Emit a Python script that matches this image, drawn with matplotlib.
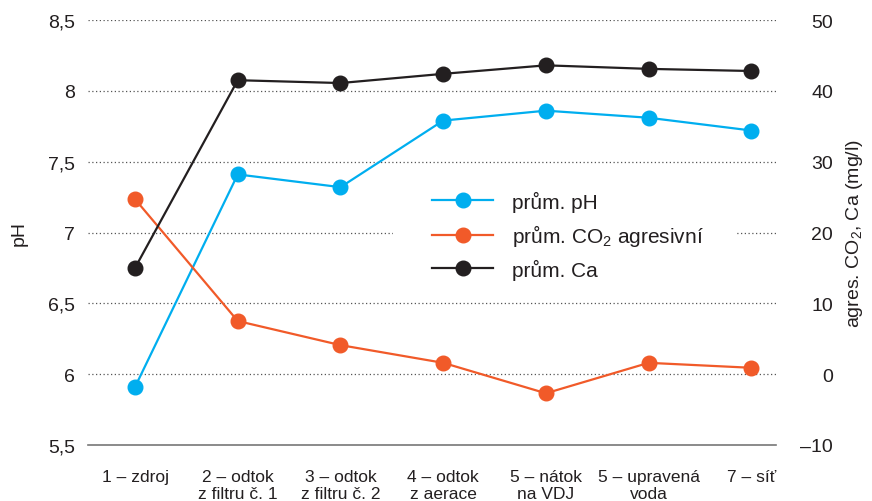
import matplotlib
matplotlib.use("Agg")
import matplotlib.pyplot as plt
from matplotlib.patches import Rectangle
import numpy as np

plt.rcParams['font.family'] = ['Liberation Sans', 'DejaVu Sans']
plt.rcParams['mathtext.fontset'] = 'custom'
plt.rcParams['mathtext.rm'] = 'Liberation Sans'
plt.rcParams['mathtext.it'] = 'Liberation Sans:italic'
plt.rcParams['mathtext.bf'] = 'Liberation Sans:bold'

categories = ["1 – zdroj", "2 – odtok\nz filtru č. 1", "3 – odtok\nz filtru č. 2",
              "4 – odtok\nz aerace", "5 – nátok\nna VDJ", "5 – upravená\nvoda", "7 – síť"]
ph = [5.91, 7.41, 7.32, 7.79, 7.86, 7.81, 7.72]
co2 = [24.7, 7.5, 4.1, 1.6, -2.7, 1.6, 0.9]
ca = [15.0, 41.5, 41.1, 42.4, 43.6, 43.1, 42.8]

left_ticks = [5.5, 6, 6.5, 7, 7.5, 8, 8.5]
left_labels = ["5,5", "6", "6,5", "7", "7,5", "8", "8,5"]
right_ticks = [-10, 0, 10, 20, 30, 40, 50]
right_labels = ["–10", "0", "10", "20", "30", "40", "50"]

c_blue = "#00AEEF"
c_orange = "#F15A29"
c_black = "#231F20"
txt = "#231F20"

fig = plt.figure(figsize=(8.72, 5.02), dpi=100)
ax = fig.add_axes([88/872, 1-446/502, (776-88)/872, (446-21)/502])
ax2 = ax.twinx()

x = np.arange(len(categories))
ax.set_xlim(-0.458, 6.24)
ax.set_ylim(5.5, 8.5)
ax2.set_ylim(-10, 50)

l1, = ax.plot(x, ph, color=c_blue, lw=1.6, marker='o', ms=10.5, zorder=3, label="prům. pH")
l2, = ax2.plot(x, co2, color=c_orange, lw=1.6, marker='o', ms=10.5, zorder=3,
               label=r"prům. CO$_\mathregular{2}$ agresivní")
l3, = ax2.plot(x, ca, color=c_black, lw=1.6, marker='o', ms=10.5, zorder=3, label="prům. Ca")

for a in (ax, ax2):
    for s in ('top', 'left', 'right', 'bottom'):
        a.spines[s].set_visible(False)

# dotted grid lines except the bottom one, which is solid
for t in left_ticks[1:]:
    ax.axhline(t, color="#555555", lw=0.9, ls=(0, (1, 2.0)), zorder=1)
ax.axhline(5.5, color="#777777", lw=1.2, zorder=2, clip_on=False)

# white legend background (covers the gridline behind the legend)
ax.add_patch(Rectangle((0.4433, 0.45), 0.5, 0.09, transform=ax.transAxes,
                       facecolor='white', edgecolor='none', zorder=1.5))

ax.set_yticks(left_ticks)
ax.set_yticklabels(left_labels)
ax2.set_yticks(right_ticks)
ax2.set_yticklabels(right_labels, ha='right')
ax.tick_params(axis='y', length=0, pad=9.4, labelsize=14, labelcolor=txt)
ax2.tick_params(axis='y', length=0, pad=41, labelsize=14, labelcolor=txt)

ax.set_xticks(x)
ax.set_xticklabels(categories, linespacing=1.2)
ax.tick_params(axis='x', length=0, pad=17, labelsize=12.5, labelcolor=txt)

ax.set_ylabel("pH", fontsize=14, color=txt)
ax.yaxis.set_label_coords(-0.088, 0.5)
ax2.set_ylabel(r"agres. CO$_\mathregular{2}$, Ca (mg/l)", fontsize=14, color=txt)
ax2.yaxis.set_label_coords(1.099, 0.5)

leg = ax2.legend(handles=[l1, l2, l3], loc='center left', bbox_to_anchor=(0.5, 0.494),
                 frameon=False, fontsize=15, handlelength=2.93, handletextpad=0.9,
                 labelspacing=0.5, borderpad=0, borderaxespad=0)
for t in leg.get_texts():
    t.set_color(txt)
leg.set_zorder(5)

fig.savefig("out.png", dpi=100)
